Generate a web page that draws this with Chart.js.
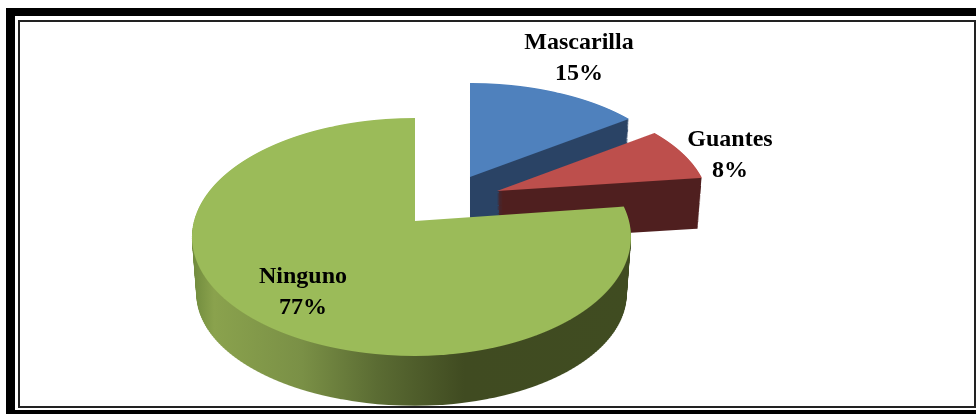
<!DOCTYPE html>
<html>
<head>
<meta charset="utf-8">
<style>html,body{margin:0;padding:0;background:#fff;overflow:hidden}canvas{display:block}</style>
<script src="https://cdn.jsdelivr.net/npm/chart.js@4"></script>
</head>
<body>
<canvas id="c" width="976" height="414"></canvas>
<script>
const categories = ['Mascarilla', 'Guantes', 'Ninguno'];
const values = [15, 8, 77];
const percentLabels = ['15%', '8%', '77%'];
const topColors = ['#4f81bd', '#bd4f4c', '#9bbb59'];
const wallStops = [
  [[0, '#2a4365'], [1, '#2a4365']],
  [[0, '#4f1f1f'], [1, '#4f1f1f']],
  [[0, '#6f8a3c'], [0.05, '#8aa24d'], [0.25, '#7a9046'], [0.42, '#5b6c33'], [0.62, '#404b21'], [1, '#404c21']]
];

// Projection of each exploded slice: a perspective view of the tilted disc.
// A is the half width right of the vertex, AL (when given) the half width left of it.
const slices = [
  {cx: 470, cy: 177, A: 212, B: 106.6, depth: 52},
  {cx: 497, cy: 191, A: 210, B: 106.5, depth: 50},
  {cx: 415, cy: 221, A: 214, AL: 221, B: 116.8, depth: 58}
];
const K = 0.134;
const labelPlaces = [[579, 43, 74], [730, 140, 171], [303, 277, 308]];

function drawProjected(ctx, arc, p, stripH) {
  const r = arc.outerRadius;
  const yMin = Math.floor(p.cy - p.B / (1 + K)) - 1;
  const yMax = Math.ceil(p.cy + p.B / (1 - K)) + 1;
  const sides = p.AL ? [[p.A, Math.round(p.cx), 976], [p.AL, 0, Math.round(p.cx)]] : [[p.A, 0, 976]];
  for (let sy = yMin; sy < yMax; sy += stripH) {
    if (sy > 414 || sy + stripH < 0) continue;
    const ym = sy + stripH / 2 - p.cy;
    const Y = ym / (p.B + K * ym);
    const w = 1 - K * Y;
    const Sy = p.B / (w * w);
    const d = Sy / r;
    sides.forEach(([A, x0, x1]) => {
      const a = A / w / r;
      ctx.save();
      ctx.setTransform(1, 0, 0, 1, 0, 0);
      ctx.beginPath();
      ctx.rect(x0, sy, x1 - x0, stripH);
      ctx.clip();
      ctx.setTransform(a, 0, 0, d, p.cx - a * arc.x, sy + stripH / 2 - Sy * Y - d * arc.y);
      arc.draw(ctx);
      ctx.restore();
    });
  }
}

const pie3d = {
  id: 'pie3d',
  beforeDatasetsDraw(chart) {
    const ctx = chart.ctx;
    const arcs = chart.getDatasetMeta(0).data;
    arcs.forEach((arc, i) => {
      const s = slices[i];
      // side wall: sweep of the slice from the lower disc up to the top disc
      const off = document.createElement('canvas');
      off.width = 976; off.height = 414;
      const octx = off.getContext('2d');
      for (let t = s.depth; t >= 1; t -= 1) {
        const f = t / s.depth;
        drawProjected(octx, arc, {
          cx: s.cx, cy: s.cy + t,
          A: s.A * (1 - 0.02 * f),
          AL: s.AL ? s.AL * (1 - 0.02 * f) : 0,
          B: s.B * (1 - 0.06 * f)
        }, 2);
      }
      octx.globalCompositeOperation = 'source-in';
      const g = octx.createLinearGradient(192, 0, 631, 0);
      wallStops[i].forEach(st => g.addColorStop(st[0], st[1]));
      octx.fillStyle = g;
      octx.fillRect(0, 0, 976, 414);
      ctx.drawImage(off, 0, 0);
      // top face
      drawProjected(ctx, arc, s, 1);
    });
    return false;
  },
  afterDraw(chart) {
    const ctx = chart.ctx;
    ctx.save();
    ctx.setTransform(1, 0, 0, 1, 0, 0);
    // labels
    ctx.fillStyle = '#000';
    ctx.font = 'bold 24px "Liberation Serif"';
    ctx.textAlign = 'center';
    ctx.textBaseline = 'middle';
    categories.forEach((name, i) => {
      const pl = labelPlaces[i];
      ctx.fillText(name, pl[0], pl[1]);
      ctx.fillText(percentLabels[i], pl[0], pl[2]);
    });
    // frame
    ctx.fillStyle = '#000';
    ctx.fillRect(6, 8, 970, 8);
    ctx.fillRect(6, 8, 9, 406);
    ctx.fillRect(6, 410, 970, 4);
    ctx.fillStyle = '#222';
    ctx.fillRect(18, 20, 958, 2);
    ctx.fillRect(18, 20, 2, 388);
    ctx.fillRect(18, 406, 958, 2);
    ctx.fillRect(974, 20, 2, 388);
    ctx.restore();
  }
};

new Chart(document.getElementById('c'), {
  type: 'pie',
  data: {
    labels: categories,
    datasets: [{data: values, backgroundColor: topColors, borderWidth: 0}]
  },
  options: {
    responsive: false,
    animation: false,
    rotation: 0,
    plugins: {legend: {display: false}, tooltip: {enabled: false}, title: {display: false}}
  },
  plugins: [pie3d]
});
</script>
</body>
</html>
